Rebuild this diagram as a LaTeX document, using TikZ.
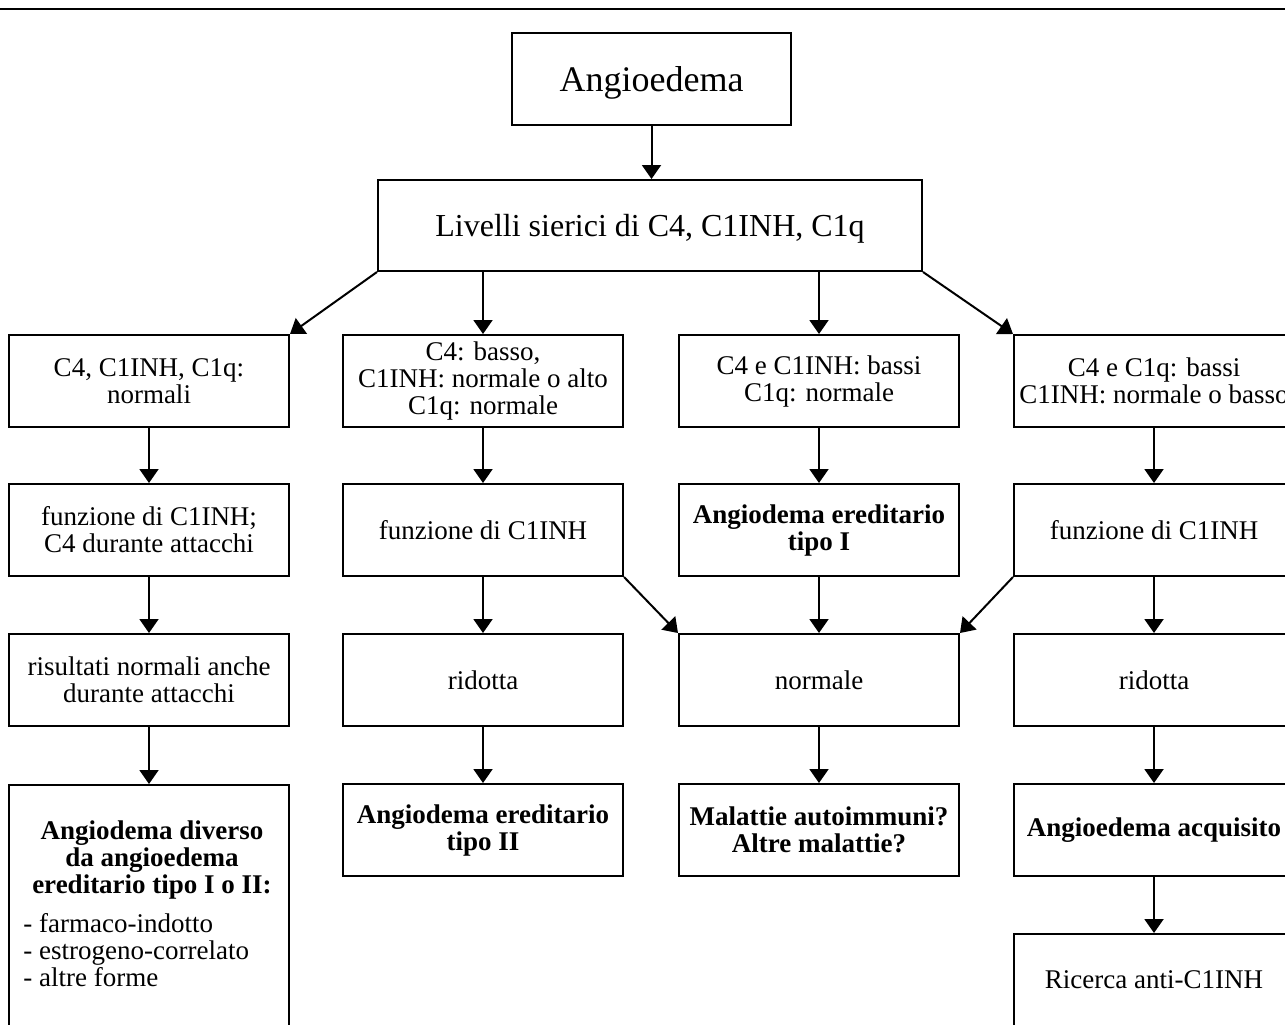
\documentclass[tikz,border=0pt]{standalone}
\usepackage{fontspec}
\setmainfont{Liberation Serif}
\usetikzlibrary{arrows.meta}
\begin{document}
\begin{tikzpicture}[x=0.5pt, y=-0.5pt]
    \tikzstyle{box}=[draw, line width=1pt, minimum width=140pt, minimum height=46pt, inner sep=2pt, align=center, font=\fontsize{13.5}{13.5}\selectfont]
    \tikzstyle{bbox}=[box, font=\fontsize{13.5}{13.5}\selectfont\bfseries]
    \tikzstyle{arr}=[line width=1pt, -{Triangle[length=7pt, width=9.5pt]}]
    \useasboundingbox (0,0) rectangle (1285,1024);
    \clip (0,0) rectangle (1285,1024);
    \draw[line width=0.9pt] (0,9) -- (1285,9);
    \node[box, minimum width=139.5pt, text depth=0pt, font=\fontsize{18}{18}\selectfont] (top) at (651.5,79) {Angioedema};
    \node[box, minimum width=272pt, minimum height=45.5pt, text depth=0pt, font=\fontsize{16}{16}\selectfont] (liv) at (650,225.5) {Livelli sierici di C4, C1INH, C1q};
    \node[box] (a1) at (149,381) {C4, C1INH, C1q:\\normali};
    \node[box] (b1) at (483,381) {C4: basso,\\C1INH: normale o alto\\C1q: normale};
    \node[box] (c1) at (819,381) {C4 e C1INH: bassi\\C1q: normale};
    \node[box] (d1) at (1154,381) {C4 e C1q: bassi\\C1INH: normale o basso};
    \node[box] (a2) at (149,530) {funzione di C1INH;\\C4 durante attacchi};
    \node[box] (b2) at (483,530) {funzione di C1INH};
    \node[bbox] (c2) at (819,530) {Angiodema ereditario\\tipo I};
    \node[box] (d2) at (1154,530) {funzione di C1INH};
    \node[box] (a3) at (149,680) {risultati normali anche\\durante attacchi};
    \node[box] (b3) at (483,680) {ridotta};
    \node[box] (c3) at (819,680) {normale};
    \node[box] (d3) at (1154,680) {ridotta};
    \node[box, anchor=north, minimum height=140pt] (a4) at (149,784) {};
    \node[anchor=north, inner sep=0pt, align=center, font=\fontsize{13.5}{13.5}\selectfont\bfseries] (a4h) at (152,820) {Angiodema diverso\\da angioedema\\ereditario tipo I o II:};
    \node[anchor=north west, inner sep=0pt, align=left, font=\fontsize{13.5}{13.5}\selectfont] (a4l) at (23,913) {- farmaco-indotto\\- estrogeno-correlato\\- altre forme};
    \node[bbox] (b4) at (483,830) {Angiodema ereditario\\tipo II};
    \node[bbox] (c4) at (819,830) {Malattie autoimmuni?\\Altre malattie?};
    \node[bbox] (d4) at (1154,830) {Angioedema acquisito};
    \node[box] (d5) at (1154,980) {Ricerca anti-C1INH};
    \draw[arr] (top) -- (top |- liv.north);
    \draw[arr] (liv.south -| b1) -- (b1);
    \draw[arr] (liv.south -| c1) -- (c1);
    \draw[arr] (liv.south west) -- (a1.north east);
    \draw[arr] (liv.south east) -- (d1.north west);
    \foreach \u/\v in {a1/a2, a2/a3, a3/a4, b1/b2, b2/b3, b3/b4, c1/c2, c2/c3, c3/c4, d1/d2, d2/d3, d3/d4, d4/d5} {
      \draw[arr] (\u) -- (\v);
    }
    \draw[arr] (b2.south east) -- (c3.north west);
    \draw[arr] (d2.south west) -- (c3.north east);
\end{tikzpicture}
\end{document}
